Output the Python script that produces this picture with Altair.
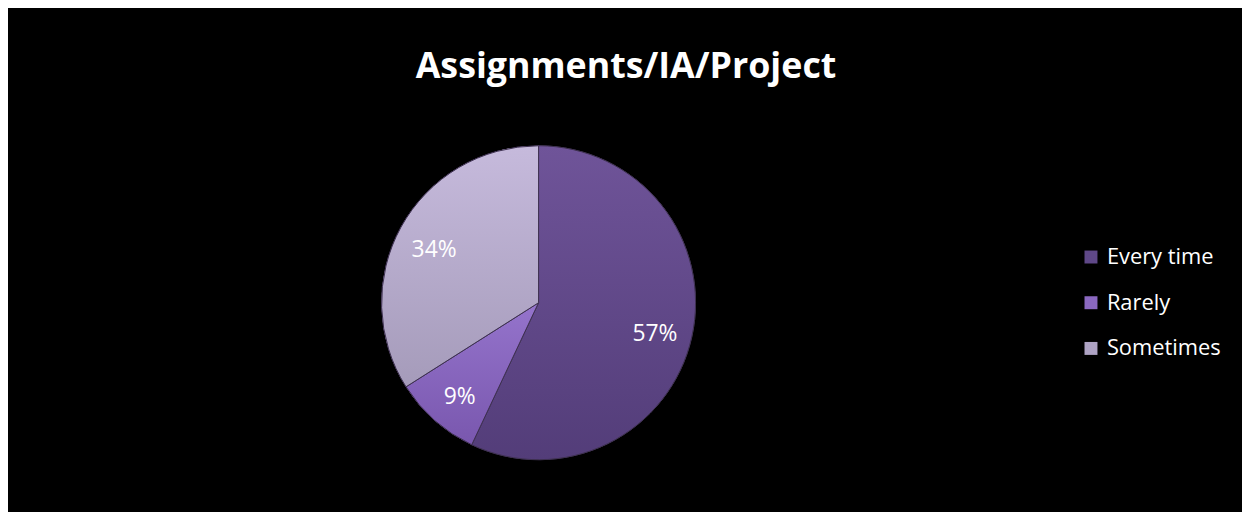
import altair as alt
import pandas as pd

categories = ["Every time", "Rarely", "Sometimes"]
values = [57, 9, 34]
labels = ["57%", "9%", "34%"]

colors = ["#5f4888", "#8a68c0", "#aea3c4"]
grad_top = ["#6f5499", "#9574cc", "#c6badc"]
grad_bot = ["#533d79", "#7957ae", "#a59bba"]

total = sum(values)
starts, ends = [], []
acc = 0
for v in values:
    starts.append(acc / total * 6.283185307)
    acc += v
    ends.append(acc / total * 6.283185307)

df = pd.DataFrame({
    "category": categories,
    "value": values,
    "label": labels,
    "start": starts,
    "end": ends,
})

CX, CY, R = 534, 295, 158

color_scale = alt.Scale(domain=categories, range=colors)

base = alt.Chart(df)

pie = base.mark_arc(outerRadius=R, stroke="#3d3050", strokeWidth=1).encode(
    theta=alt.Theta("start:Q", scale=None),
    theta2="end:Q",
    x=alt.value(CX),
    y=alt.value(CY),
    color=alt.Color(
        "category:N",
        scale=color_scale,
        sort=categories,
        legend=alt.Legend(
            title=None,
            orient="none",
            legendX=1079,
            legendY=238,
            symbolType="square",
            symbolSize=170,
            symbolStrokeWidth=0,
            labelColor="white",
            labelFontSize=22,
            labelFont="Open Sans",
            labelOffset=5,
            rowPadding=24,
        ),
    ),
)

layers = [pie]
for i, cat in enumerate(categories):
    g = alt.LinearGradient(
        gradient="linear",
        stops=[alt.GradientStop(color=grad_top[i], offset=0),
               alt.GradientStop(color=grad_bot[i], offset=1)],
        x1=0, x2=0, y1=0, y2=1,
    )
    layers.append(
        base.transform_filter(alt.datum.category == cat)
        .mark_arc(outerRadius=R, fill=g, stroke="#3d3050", strokeWidth=1)
        .encode(
            theta=alt.Theta("start:Q", scale=None),
            theta2="end:Q",
            x=alt.value(CX),
            y=alt.value(CY),
        )
    )

text = base.transform_calculate(mid="(datum.start + datum.end) / 2").mark_text(
    radius=120, dy=5, color="white", fontSize=23, font="Open Sans", baseline="middle", align="center"
).encode(
    theta=alt.Theta("mid:Q", scale=None),
    x=alt.value(CX),
    y=alt.value(CY),
    text="label:N",
)
layers.append(text)

title = alt.Chart(pd.DataFrame({"t": ["Assignments/IA/Project"]})).mark_text(
    color="white", fontSize=36, font="Open Sans", fontWeight="bold", align="center", baseline="alphabetic"
).encode(x=alt.value(622), y=alt.value(69), text="t:N")
layers.append(title)

chart = alt.layer(*layers).properties(
    width=1242,
    height=504,
    background="black",
    padding=0,
    autosize=alt.AutoSizeParams(type="none"),
).configure_view(stroke=None)

chart.save("out.html", embed_options={"renderer": "svg", "actions": False})
